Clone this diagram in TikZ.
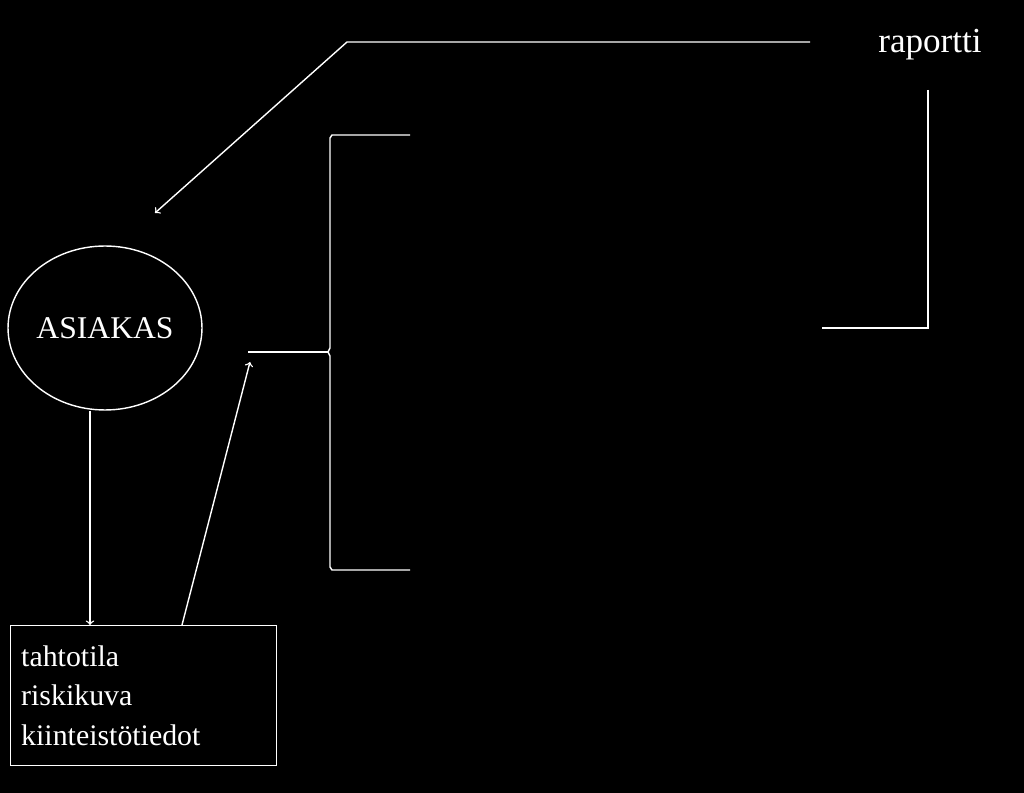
\documentclass[tikz,border=0pt]{standalone}
\usepackage{fontspec}
\setmainfont{Liberation Serif}
\usetikzlibrary{shapes.geometric}

\begin{document}
\begin{tikzpicture}[x=0.02cm, y=-0.02cm, every node/.style={text=white}]
    % background
    \fill[black] (0,0) rectangle (1024,793);
    \useasboundingbox (0,0) rectangle (1024,793);

    % Asiakas
    \node[ellipse, draw=white, thick, minimum width=194\pgflinewidth*0+3.88cm, minimum height=3.28cm, inner sep=0pt, font=\fontsize{18}{20}\selectfont] (asiakas) at (105,328) {ASIAKAS};

    % Tiedot
    \node[draw=white, thick, anchor=north west, align=left, minimum width=5.16cm, minimum height=2.8cm, text width=4.9cm, inner sep=6pt, font=\fontsize{17}{22.7}\selectfont] (tiedot) at (10,625) {tahtotila\\riskikuva\\kiinteistötiedot};

    % Raportti
    \node[font=\fontsize{20}{22}\selectfont] (raportti) at (930,45) {raportti};

    % Brace
    \coordinate (kanta) at (248,352);
    \coordinate (karki) at (328,352);
    \draw[white, thick] (410,135) -- (332,135) -- (330,138) -- (330,348) -- (karki) -- (330,356) -- (330,567) -- (332,570) -- (410,570);
    \draw[white, thick] (kanta) -- (karki);

    % Connectors
    \draw[->, white, thick] (asiakas.south -| 90,0) -- (tiedot.north -| 90,0);
    \draw[->, white, thick] (tiedot.north -| 182,0) -- (250,362);
    \draw[->, white, thick] (810,42) -- (347,42) -- (155,213);
    \draw[white, thick] (928,90) -- (928,328) -- (822,328);
\end{tikzpicture}
\end{document}
